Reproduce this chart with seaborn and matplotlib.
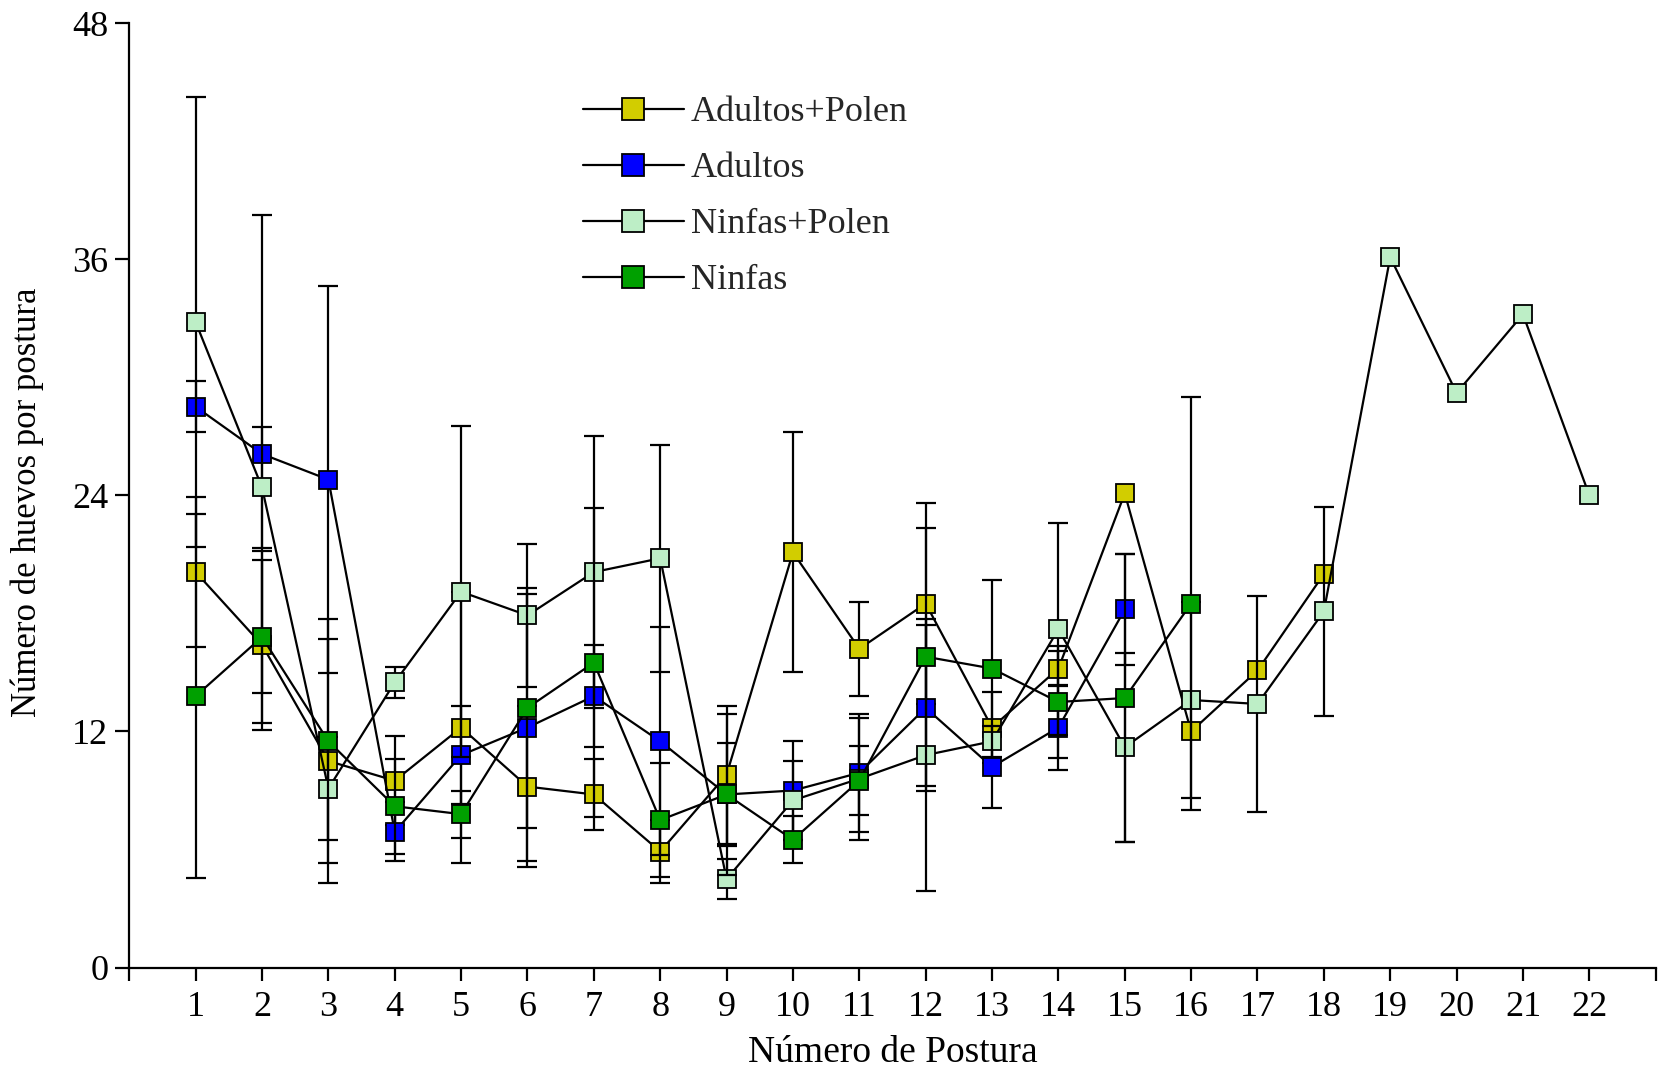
import numpy as np
import pandas as pd
import seaborn as sns
import matplotlib
matplotlib.use('Agg')
import matplotlib.pyplot as plt

nan = np.nan

postura = list(range(1, 23))

# Adultos+Polen (posturas 1-18)
adultos_polen = [20.1, 16.4, 10.5, 9.5, 12.2, 9.2, 8.8, 5.9, 9.8, 21.1, 16.2, 18.5,
                 12.2, 15.2, 24.1, 12.0, 15.1, 20.0]
adultos_polen_err = [3.8, 4.3, 6.2, 2.25, 6.9, 4.1, 1.8, 1.6, 3.5, 6.1, 2.4, 5.1,
                     1.8, 0.9, nan, nan, nan, nan]

# Adultos (posturas 1-15)
adultos = [28.5, 26.1, 24.8, 6.9, 10.8, 12.2, 13.8, 11.5, 8.8, 9.0, 9.9, 13.2,
           10.2, 12.2, 18.2]
adultos_err = [1.3, 12.15, 9.85, 1.5, 2.5, 6.8, 2.6, 5.8, 2.6, 2.5, 3.0, 4.2,
               2.1, 2.15, 2.8]

# Ninfas+Polen (posturas 1-22)
ninfas_polen = [32.8, 24.4, 9.1, 14.5, 19.1, 17.9, 20.1, 20.8, 4.5, 8.5, 9.6, 10.8,
                11.5, 17.2, 11.2, 13.6, 13.4, 18.1, 36.1, 29.2, 33.2, 24.0]
ninfas_polen_err = [11.45, 3.06, 2.6, 0.78, 8.4, 3.64, 6.9, 5.77, 1.0, 2.0, 3.1, 6.9,
                    nan, 5.4, 4.8, 5.0, 5.5, 5.3, nan, nan, nan, nan]

# Ninfas (posturas 1-16)
ninfas = [13.8, 16.8, 11.5, 8.2, 7.8, 13.2, 15.5, 7.5, 8.8, 6.5, 9.5, 15.8,
          15.2, 13.5, 13.7, 18.5]
ninfas_err = [9.25, 4.35, 6.2, 2.4, 1.2, 6.1, 7.85, 2.9, 4.1, 1.2, 1.75, 6.55,
              4.5, 2.85, 7.3, 10.5]

series = [('Adultos+Polen', adultos_polen, adultos_polen_err, '#D2CD00'),
          ('Adultos', adultos, adultos_err, '#0000FF'),
          ('Ninfas+Polen', ninfas_polen, ninfas_polen_err, '#BDEEC6'),
          ('Ninfas', ninfas, ninfas_err, '#00A000')]

sns.set_style('ticks')
plt.rcParams['font.family'] = ['Liberation Serif', 'DejaVu Serif']

fig = plt.figure(figsize=(16.62, 10.71), dpi=100)
ax = fig.add_axes([0.0778, 0.0965, 0.9184, 0.882])

for i, (name, vals, errs, col) in enumerate(series):
    df = pd.DataFrame({'postura': postura[:len(vals)], 'huevos': vals, 'err': errs})
    ax.errorbar(df['postura'], df['huevos'], yerr=df['err'], fmt='none',
                ecolor='black', elinewidth=1.6, capsize=7, capthick=1.6,
                zorder=2 + i)
    sns.lineplot(data=df, x='postura', y='huevos', ax=ax, color='black',
                 linewidth=1.6, marker='s', markersize=13,
                 markerfacecolor=col, markeredgecolor='black',
                 markeredgewidth=1.3, label=name, zorder=2.5 + i)

ax.set_xlim(0, 23)
ax.set_ylim(0, 48)
ax.set_xticks(range(0, 24))
ax.set_xticklabels([''] + [str(p) for p in postura] + [''])
ax.set_yticks([0, 12, 24, 36, 48])

for side in ['top', 'right']:
    ax.spines[side].set_visible(False)
for side in ['left', 'bottom']:
    ax.spines[side].set_linewidth(1.6)
    ax.spines[side].set_color('black')

ax.tick_params(axis='y', direction='out', length=10, width=1.6, labelsize=26,
               pad=5, colors='black')
ax.tick_params(axis='x', direction='out', length=9, width=1.6, labelsize=26,
               pad=8, colors='black')

ax.set_xlabel('Número de Postura', fontsize=27, color='black')
ax.set_ylabel('Número de huevos por postura', fontsize=25, color='black')
ax.xaxis.set_label_coords(0.5, -0.072)
ax.yaxis.set_label_coords(-0.056, 0.493)

handles, labels = ax.get_legend_handles_labels()
ax.legend(handles, labels, loc='upper left',
          bbox_to_anchor=(582.7 / 1662, 1 - 96 / 1071),
          bbox_transform=fig.transFigure,
          frameon=False, fontsize=26, markerscale=1.18,
          handlelength=2.8, handletextpad=0.2, labelspacing=0.63,
          borderpad=0, borderaxespad=0)

plt.savefig('out.png', dpi=100, facecolor='white')
